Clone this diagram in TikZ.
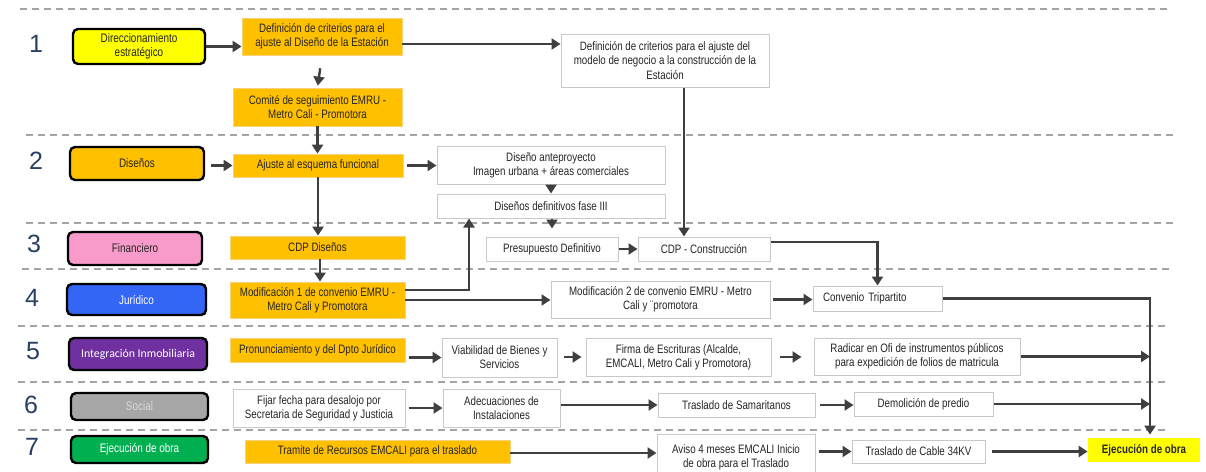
\documentclass[tikz,border=0pt]{standalone}
\usepackage{fontspec}
\setmainfont{Liberation Sans}[FakeStretch=0.8]
\newfontfamily\numfont{Liberation Sans}
\newfontfamily\calfont{Carlito}
\usetikzlibrary{positioning,arrows.meta}

\definecolor{corange}{HTML}{FFC000}
\definecolor{cedge}{HTML}{F6D27A}
\definecolor{cyellow}{HTML}{FFFF00}
\definecolor{cpink}{HTML}{F89BCB}
\definecolor{cblue}{HTML}{3366F5}
\definecolor{cpurple}{HTML}{7030A0}
\definecolor{cgrey}{HTML}{A6A6A6}
\definecolor{cgreen}{HTML}{00B050}
\definecolor{ink}{HTML}{262626}
\definecolor{boxline}{HTML}{C8C8C8}
\definecolor{arrowc}{HTML}{3F3F3F}
\definecolor{dashc}{HTML}{A3A3A3}
\definecolor{numc}{HTML}{263F62}

\tikzset{
  cat/.style={draw=black, line width=2.4pt, rounded corners=5pt, align=center,
    minimum width=136pt, minimum height=31pt, text=ink,
    font=\fontsize{12.4}{14}\selectfont},
  task/.style={fill=corange, draw=cedge, line width=0.8pt, align=center,
    inner sep=2pt, text=ink, font=\fontsize{12.2}{14.2}\selectfont},
  act/.style={fill=white, draw=boxline, line width=1pt, align=center,
    inner sep=2pt, text=ink, font=\fontsize{12.2}{14.2}\selectfont},
  arr/.style={draw=arrowc, line width=2.4pt, -{Triangle[length=9pt,width=11pt]}},
  lane/.style={draw=dashc, line width=1.3pt, dash pattern=on 7pt off 5pt},
  stepnum/.style={text=numc, font=\numfont\fontsize{25}{25}\selectfont},
}

\begin{document}
\begin{tikzpicture}[x=1pt,y=-1pt]
  \useasboundingbox (0,0) rectangle (1206,471);

  % Lanes
  \draw[lane] (20,9) -- (1168,9);
  \draw[lane] (26,135) -- (1177,135);
  \draw[lane] (26,223) -- (1178,223);
  \draw[lane] (22,269) -- (1172,269);
  \draw[lane] (18,326) -- (1170,326);
  \draw[lane] (18,382) -- (1170,382);
  \draw[lane] (18,430) -- (1170,430);

  % Step numbers
  \node[stepnum] (n1) at (36,44) {1};
  \node[stepnum] (n2) at (36,161) {2};
  \node[stepnum] (n3) at (34,244) {3};
  \node[stepnum] (n4) at (32,298) {4};
  \node[stepnum] (n5) at (33,351) {5};
  \node[stepnum] (n6) at (31,405) {6};
  \node[stepnum] (n7) at (32,447) {7};

  %Define nodes
  \node[cat, fill=cyellow, minimum width=132pt, minimum height=35pt] (dir) at (139,46.5) {Direccionamiento\\estratégico};
  \node[cat, fill=corange, minimum width=134pt, minimum height=33pt] (dis) at (137,163.5) {Diseños};
  \node[cat, fill=cpink, minimum width=134pt, minimum height=33pt] (fin) at (135,248.5) {Financiero};
  \node[cat, fill=cblue, text=white, minimum width=139pt] (jur) at (136.5,299.5) {Jurídico};
  \node[cat, fill=cpurple, text=white, minimum width=138pt, minimum height=32pt,
    font=\calfont\fontsize{11.8}{13}\selectfont] (inm) at (138,354) {Integración Inmobiliaria};
  \node[cat, fill=cgrey, text=white!85!black, minimum width=137pt, minimum height=27pt] (soc) at (139.5,406.5) {Social};
  \node[cat, fill=cgreen, text=white, minimum width=137pt, minimum height=27pt] (eje) at (139.5,449.5) {Ejecución de obra};

  \node[task, minimum width=160pt, minimum height=37pt] (crit) at (322,36.5) {Definición de criterios para el\\ajuste al Diseño de la Estación};
  \node[task, minimum width=169pt, minimum height=38pt] (comite) at (317.5,107) {Comité de seguimiento EMRU -\\Metro Cali - Promotora};
  \node[act, minimum width=208pt, minimum height=53pt] (modelo) at (665,60.5) {Definición de criterios para el ajuste del\\modelo de negocio a la construcción de la\\Estación};

  \node[task, minimum width=170pt, minimum height=23pt] (ajuste) at (318,165.5) {Ajuste al esquema funcional};
  \node[act, minimum width=228pt, minimum height=38pt] (antep) at (551,165) {Diseño anteproyecto\\Imagen urbana + áreas comerciales};
  \node[act, minimum width=228pt, minimum height=24pt, below=9pt of antep] (defin) {Diseños definitivos fase III};

  \node[task, minimum width=175pt, minimum height=23pt] (cdpdis) at (317.5,247.5) {CDP Diseños};
  \node[act, minimum width=132pt, minimum height=24pt] (presup) at (552,249) {Presupuesto Definitivo};
  \node[act, minimum width=132pt, minimum height=24pt, right=19pt of presup] (cdpcon) {CDP - Construcción};

  \node[task, minimum width=175pt, minimum height=36pt] (mod1) at (317.5,300) {Modificación 1 de convenio EMRU -\\Metro Cali y Promotora};
  \node[act, minimum width=219pt, minimum height=37pt] (mod2) at (660.5,299.5) {Modificación 2 de convenio EMRU - Metro\\Cali y ¨promotora};
  \node[act, text width=109pt, inner xsep=10pt, align=left, minimum height=25pt] (conv) at (877.5,298.5) {Convenio Tripartito};

  \node[task, minimum width=175pt, minimum height=24pt] (pron) at (317.5,350) {Pronunciamiento y del Dpto Jurídico};
  \node[act, minimum width=115pt, minimum height=39pt] (viab) at (499.5,357.5) {Viabilidad de Bienes y\\Servicios};
  \node[act, minimum width=185pt, minimum height=38pt] (firma) at (678.5,357) {Firma de Escrituras (Alcalde,\\EMCALI, Metro Cali y Promotora)};
  \node[act, minimum width=206pt, minimum height=37pt] (radic) at (917,356.5) {Radicar en Ofi de instrumentos públicos\\para expedición de folios de matricula};

  \node[act, minimum width=172pt, minimum height=38pt] (fecha) at (319,408) {Fijar fecha para desalojo por\\Secretaria de Seguridad  y Justicia};
  \node[act, minimum width=117pt, minimum height=38pt] (adec) at (501.5,408) {Adecuaciones de\\Instalaciones};
  \node[act, minimum width=157pt, minimum height=24pt] (samar) at (736.5,405) {Traslado de Samaritanos};
  \node[act, minimum width=139pt, minimum height=24pt] (demol) at (923.5,404) {Demolición de predio};

  \node[task, minimum width=265pt, minimum height=23pt] (tram) at (377.5,451.5) {Tramite de Recursos EMCALI para el traslado};
  \node[act, minimum width=158pt, minimum height=46pt] (aviso) at (736,457) {Aviso  4 meses EMCALI Inicio\\de obra para el Traslado};
  \node[act, minimum width=133pt, minimum height=23pt] (cable) at (918.5,451.5) {Traslado de Cable 34KV};
  \node[task, fill=cyellow, draw=none, minimum width=112pt, minimum height=24pt,
    font=\bfseries\fontsize{12.2}{14}\selectfont] (obra) at (1144,450) {Ejecución de obra};
  \coordinate (bus) at ([xshift=6pt]obra.north);

  % Connect the nodes
  \draw[arr] (dir.east) -- (dir.east -| crit.west);
  \draw[arr] ([yshift=-7.5pt]crit.east) -- ([yshift=-7.5pt]crit.east -| modelo.west);
  \draw[arr, shorten <=13pt, shorten >=2pt] (crit.south) -- (comite.north);
  \draw[arr] (comite.south) -- (comite.south |- ajuste.north);
  \draw[arr, shorten <=6pt] (dis.east |- ajuste.west) -- (ajuste.west);
  \draw[arr, shorten <=4pt] (ajuste.east) -- (ajuste.east -| antep.west);
  \draw[arr] (antep.south) -- (defin.north);
  \draw[arr, shorten >=8pt] (defin.south -| presup.north) -- (presup.north);
  \draw[arr] (ajuste.south) -- (ajuste.south |- cdpdis.north);
  \draw[arr] ([xshift=2.5pt]cdpdis.south) -- ([xshift=2.5pt]cdpdis.south |- mod1.north);
  \draw[arr] ([yshift=10pt]mod1.east) -| ([xshift=-82pt]defin.south);
  \draw[arr] (mod1.east) -- (mod1.east -| mod2.west);
  \draw[arr] ([xshift=-20pt]cdpcon.north |- modelo.south) -- ([xshift=-20pt]cdpcon.north);
  \draw[arr] (presup.east) -- (cdpcon.west);
  \draw[arr] ([yshift=7pt]cdpcon.east) -| (conv.north);
  \draw[arr, shorten <=2pt] (mod2.east) -- (mod2.east -| conv.west);
  \draw[arr, shorten >=3pt] (conv.east) -| (bus);

  \draw[arr, shorten <=4pt] (pron.east |- viab.west) -- (viab.west);
  \draw[arr, shorten <=6pt, shorten >=4pt] (viab.east |- firma.west) -- (firma.west);
  \draw[arr, shorten <=8pt, shorten >=12pt] (firma.east) -- (firma.east -| radic.west);
  \draw[arr] (radic.east) -- (radic.east -| bus);

  \draw[arr, shorten <=3pt] (fecha.east) -- (fecha.east -| adec.west);
  \draw[arr] (adec.east |- samar.west) -- (samar.west);
  \draw[arr, shorten <=4pt] (samar.east) -- (samar.east -| demol.west);
  \draw[arr] (demol.east) -- (demol.east -| bus);

  \draw[arr] ([yshift=-1.5pt]tram.east) -- ([yshift=-1.5pt]tram.east -| aviso.west);
  \draw[arr, shorten <=3pt] (cable.west -| aviso.east) -- (cable.west);
  \draw[arr, shorten <=6pt] (cable.east) -- (cable.east -| obra.west);
\end{tikzpicture}
\end{document}
